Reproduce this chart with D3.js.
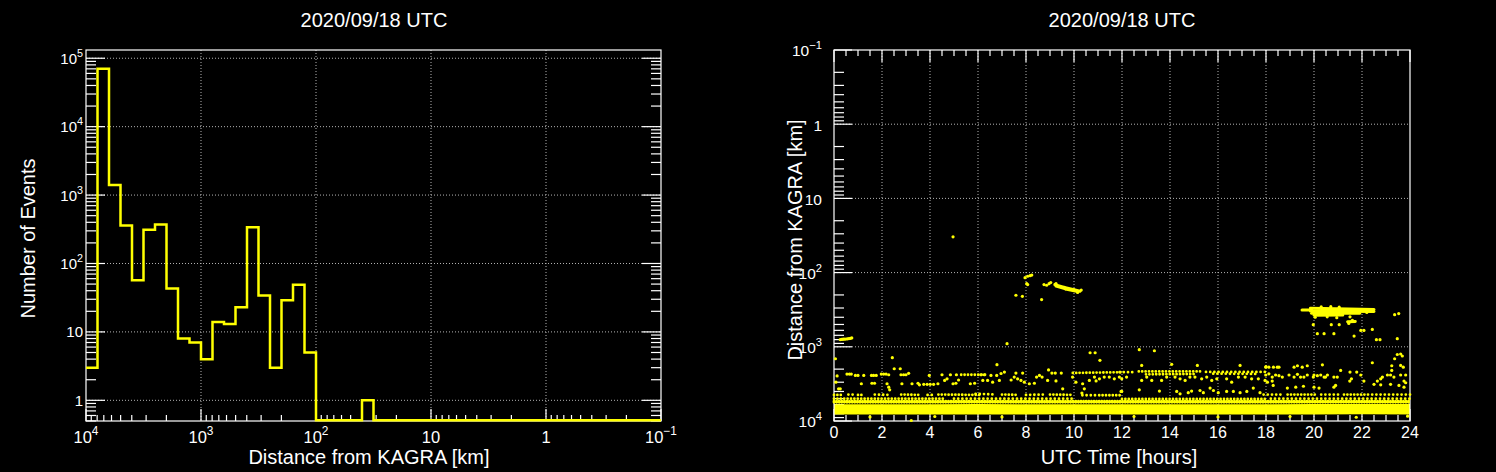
<!DOCTYPE html>
<html><head><meta charset="utf-8">
<script src="https://cdn.jsdelivr.net/npm/d3@7"></script>
<style>
html,body{margin:0;padding:0;background:#000;}
svg{display:block;background:#000;}
text{font-family:"Liberation Sans", Arial, Helvetica, sans-serif; fill:#fff;}
</style></head><body>
<svg id="c" width="1496" height="472"></svg>
<script>
// ---------------- DATA ----------------
const chartTitle = "2020/09/18 UTC";
const histXTitle = "Distance from KAGRA [km]";
const histYTitle = "Number of Events";
const scatXTitle = "UTC Time [hours]";
const scatYTitle = "Distance from KAGRA [km]";

// Histogram: 50 logarithmic bins from 10^4 km down to 10^-1 km
const histRangeKm = [1e4, 0.1];
const binCounts = [3, 70000, 1400, 360, 57, 310, 370, 43, 8, 7,
                   4, 14, 13, 23, 340, 34, 3, 29, 49, 5,
                   0, 0, 0, 0, 1, 0, 0, 0, 0, 0,
                   0, 0, 0, 0, 0, 0, 0, 0, 0, 0,
                   0, 0, 0, 0, 0, 0, 0, 0, 0, 0];
const histXTicks = [1e4, 1e3, 1e2, 10, 1, 0.1];
const histXTickLabels = [["10","4"],["10","3"],["10","2"],["10",""],["1",""],["10","\u22121"]];
const histYTicks = [1, 10, 100, 1e3, 1e4, 1e5];
const histYTickLabels = [["1",""],["10",""],["10","2"],["10","3"],["10","4"],["10","5"]];

// Scatter axes
const hourTicks = [0, 2, 4, 6, 8, 10, 12, 14, 16, 18, 20, 22, 24];
const distTicks = [0.1, 1, 10, 100, 1000, 10000];
const distTickLabels = [["10","\u22121"],["1",""],["10",""],["10","2"],["10","3"],["10","4"]];

// Dense band of near events (edges in km at given hours)
const bandHours  = [0, 2, 4, 6, 8, 10, 12, 14, 16, 18, 20, 22, 24];
const bandNearKm = [5950, 5950, 5950, 5900, 5950, 5950, 5950, 5950, 5950, 5950, 5900, 5900, 5900];
const bandFarKm  = [8150, 8200, 8150, 8150, 8150, 8100, 8150, 8150, 8150, 8150, 8150, 8100, 8150];

// Rows of closely spaced events: [startHour, startKm, endHour, endKm]
const rowTracks = [
  [0.0,5400,24.0,5400],[0.0,5600,24.0,5600],
  [0.0,5000,4.6,5000],[5.0,5000,10.0,5000],[12.0,5050,18.0,5050],[18.2,5000,24.0,5000],
  [0.0,4450,0.3,4450],[0.6,4400,0.85,4400],[1.0,4450,1.25,4450],[1.7,4400,2.3,4450],
  [2.8,4400,3.6,4450],[3.9,4450,4.1,4450],[4.35,4400,6.1,4450],[5.9,4300,6.75,4400],
  [7.0,4400,7.7,4450],[8.0,4450,8.7,4400],[9.0,4400,9.95,4450],[10.35,4500,10.9,4500],
  [11.05,4500,12.0,4500],[17.9,4400,18.75,4400],[18.9,4400,20.1,4400],[20.3,4400,21.1,4400],
  [21.25,4400,22.1,4400],[22.25,4400,24.0,4400],
  [9.95,2250,12.05,2200],[11.9,2200,12.5,2200],[12.7,2150,15.3,2150],[15.5,2180,18.1,2180],
  [13.0,2350,15.0,2330],[15.8,2300,17.6,2320],
  [5.3,2380,6.3,2380]
];
// Compact clusters of events: [startHour, startKm, endHour, endKm]
const clusterTracks = [
  [9.2,145,9.6,158],[9.6,158,10.0,170],[10.0,170,10.25,178],
  [9.25,152,9.65,166],[9.65,166,10.1,178],
  [19.5,318,19.9,318],[19.85,302,22.5,315],[19.85,330,22.5,335],[19.9,352,21.9,352],
  [20.0,375,21.2,372],[21.4,460,21.72,455]
];

// Individual events: [hour, km]
const isolatedEvents = [
  [4.96,33],[7.21,908],[0.06,1450],[2.43,1400],[2.51,1976],[2.76,1976],
  [10.67,1203],[10.88,1203],[11.08,1523],[12.72,1094],[13.35,1130],[3.22,9850],[21.76,8900],
  [0.26,800],[0.32,795],[0.38,790],[0.44,790],[0.50,785],[0.56,780],[0.62,775],[0.68,770],[0.74,760],
  [7.96,117],[8.07,112],[8.17,110],[8.24,108],[8.03,141],[8.07,145],[7.58,202],[7.85,209],[8.65,231],
  [8.75,145],[8.86,148],[8.96,141],[9.03,136],[9.25,141],[10.3,172],[10.15,185],
  [20.3,290],[20.7,288],[21.05,292],[20.55,395],[20.05,400],[20.95,405],[21.5,395],[22.2,345],[22.45,325],
  [21.45,485],[21.6,440],
  [19.97,504],[20.14,666],[20.42,666],[20.72,504],[20.83,666],[21.05,504],[21.67,716],[21.95,601],
  [22.08,601],[22.43,583],[22.6,801],[22.75,801],[23.36,369],[23.53,357],[23.47,778],
  [1.5,8800],[4.2,8700],[7.0,8800],[12.5,8700],[16.0,8800],[19.0,8700],[23.9,8600]
];
const regionalEvents = [
  [0.08,3000],[0.13,2470],[0.54,2330],[0.64,2330],[0.72,2330],[0.89,2430],[1.0,2430],[1.24,2430],[1.14,3150],
  [0.19,3680],[0.26,3680],[1.56,2430],[1.65,2430],[1.76,2430],[1.97,2330],[2.07,2330],[2.17,2330],[2.28,2380],
  [1.58,3100],[1.69,3100],[2.21,3150],[2.28,3500],[2.32,3800],[2.83,3150],[2.79,2380],[2.9,2380],[3.0,2380],
  [3.11,2280],[3.25,3150],[3.5,3100],[3.56,3250],[3.74,3200],[3.88,3200],[4.01,3200],[4.15,3200],[3.97,2430],
  [4.33,3150],[4.5,2380],[4.61,2840],[4.71,2700],[4.85,2380],[4.96,3150],[5.08,3100],[5.19,2800],[5.1,2380],
  [5.68,3150],[5.86,3100],
  [6.79,1740],[6.12,2380],[6.26,2380],[6.54,2430],[6.78,2430],[6.96,2290],[7.10,2190],[6.2,2840],
  [6.4,2840],[6.61,3000],[6.89,2840],[7.38,2800],[7.51,2560],[7.65,2700],[7.79,2840],[7.93,3000],[7.58,2260],
  [7.86,2260],[8.14,3150],[8.35,3100],[8.44,2560],[8.56,2430],[8.67,2560],[8.94,2050],[9.08,2260],[9.22,2260],
  [8.9,2840],[9.25,2880],[9.47,2260],[9.53,3680],[9.94,2560],[10.08,3000],[10.36,3150],[10.64,2840],[10.92,2880],
  [10.85,2560],[11.06,2700],[11.26,2560],[11.47,2560],[11.68,2700],[11.89,2560],[10.43,3680],[10.33,4200],[11.96,4000],
  [12.82,1783],[14.07,1720],[15.14,1783],[16.92,1783],[18.0,1850],
  [11.99,2700],[12.19,2560],[12.82,2840],[13.03,2560],[13.24,2840],[13.65,2840],[13.86,2560],[14.21,2560],
  [14.42,2700],[14.63,2840],[14.83,2560],[15.04,2560],[15.32,2700],[15.53,2560],[15.74,2840],[15.95,2700],
  [16.36,2700],[16.57,3000],[16.85,2560],[17.13,2560],[17.40,2700],[17.68,2700],[17.96,2840],
  [12.72,3800],[13.56,3950],[11.99,4000],[14.28,4000],[14.42,4300],[14.76,4150],[14.9,3950],[15.25,3880],
  [15.39,4150],[15.67,3600],[15.81,3880],[16.01,4150],[16.36,4000],[16.64,4000],[16.92,4150],[17.2,4000],
  [17.47,3600],[17.75,4150],
  [17.99,1880],[18.12,1880],[18.31,1880],[18.47,1880],[18.54,1880],
  [17.99,2400],[18.12,2310],[18.26,2560],[18.40,2400],[18.54,2450],[18.68,2560],
  [18.06,3000],[18.26,2900],[18.3,3320],
  [18.96,2400],[19.17,2560],[19.31,2350],[19.44,2560],[19.58,2560],[19.72,2400],
  [19.17,1880],[19.31,1800],[19.51,1880],[19.72,1800],
  [18.89,3600],[19.24,3500],[19.56,3400],[20.0,3500],[20.21,3600],[20.35,1750],
  [20.0,2400],[20.14,2450],[20.28,2400],[20.42,2560],[20.56,2400],[19.97,2560],[20.48,2560],
  [20.83,2560],[20.97,2560],[20.83,3500],[20.9,3320],
  [21.11,2080],[21.5,2190],[21.78,2190],[21.49,2900],[21.56,2700],[21.95,2400],[22.08,2900],[22.43,1640],
  [22.64,2900],[22.78,2700],[22.85,2560],[23.06,2400],[23.19,2400],[23.33,2560],[23.61,2400],[23.82,2400],
  [23.24,2080],[23.24,1800],[23.36,1450],[23.47,1270],[23.61,1250],[23.68,1330],[23.61,1780],[23.72,1880],
  [22.5,3200],[22.78,3250],[23.19,3200],[23.54,3320],[23.75,3500],[23.75,2900],[23.82,3050]
];

// ---------------- DRAWING ----------------
const svg = d3.select("#c");
const YELLOW = "#ffff00";
const GRID = "#b4b4b4";

function logTicks(lo, hi){
  const out = [];
  for (let e = Math.floor(Math.log10(lo)) - 1; e <= Math.ceil(Math.log10(hi)); e++){
    for (let k = 1; k < 10; k++){
      const v = +(k * Math.pow(10, e)).toPrecision(6);
      if (v >= lo * 0.9999 && v <= hi * 1.0001) out.push({v, major: k === 1});
    }
  }
  return out;
}
function supLabel(g, x, y, parts, size, anchor){
  const t = g.append("text").attr("x", x).attr("y", y)
    .attr("font-size", size).attr("text-anchor", anchor);
  t.append("tspan").text(parts[0]);
  if (parts[1]) t.append("tspan").attr("dy", -0.46 * size)
      .attr("font-size", (size * 0.72).toFixed(1)).text(parts[1]);
}
function frame(g, x0, x1, y0, y1){
  g.append("rect").attr("x", x0).attr("y", y0).attr("width", x1 - x0).attr("height", y1 - y0)
   .attr("fill", "none").attr("stroke", "#fff").attr("stroke-width", 1.2);
}

// ===== LEFT: histogram =====
{
  const X0 = 86, X1 = 661, Y0 = 50, Y1 = 421;
  const x = d3.scaleLog().domain(histRangeKm).range([X0, X1]);
  const y = d3.scaleLog().domain([0.4985, 1.32e5]).range([Y1, Y0]);
  const g = svg.append("g");

  histXTicks.slice(1, -1).forEach(v => g.append("line")
    .attr("x1", x(v)).attr("x2", x(v)).attr("y1", Y0).attr("y2", Y1)
    .attr("stroke", GRID).attr("stroke-dasharray", "1,2"));
  histYTicks.forEach(v => g.append("line")
    .attr("x1", X0).attr("x2", X1).attr("y1", y(v)).attr("y2", y(v))
    .attr("stroke", GRID).attr("stroke-dasharray", "1,2"));

  frame(g, X0, X1, Y0, Y1);

  logTicks(0.1, 1e4).forEach(t => g.append("line")
    .attr("x1", x(t.v)).attr("x2", x(t.v)).attr("y1", Y1).attr("y2", Y1 - (t.major ? 12 : 6))
    .attr("stroke", "#fff").attr("stroke-width", 1.2));
  const [ylo, yhi] = y.domain();
  logTicks(ylo, yhi).forEach(t => {
    const L = t.major ? 19 : 10;
    g.append("line").attr("x1", X0).attr("x2", X0 + L).attr("y1", y(t.v)).attr("y2", y(t.v))
      .attr("stroke", "#fff").attr("stroke-width", 1.2);
    g.append("line").attr("x1", X1).attr("x2", X1 - L).attr("y1", y(t.v)).attr("y2", y(t.v))
      .attr("stroke", "#fff").attr("stroke-width", 1.2);
  });

  const nb = binCounts.length;
  const lo = Math.log10(histRangeKm[0]), hi = Math.log10(histRangeKm[1]);
  const edge = i => Math.pow(10, lo + (hi - lo) * i / nb);
  const pts = [];
  binCounts.forEach((c, i) => {
    const yy = c > 0 ? y(c) : Y1 - 0.8;
    pts.push([x(edge(i)), yy], [x(edge(i + 1)), yy]);
  });
  g.append("path").attr("d", d3.line()(pts)).attr("fill", "none")
    .attr("stroke", YELLOW).attr("stroke-width", 2.5).attr("stroke-linejoin", "miter");

  histXTicks.forEach((v, i) => supLabel(g, x(v), 443, histXTickLabels[i], 16.5, "middle"));
  histYTicks.forEach((v, i) => supLabel(g, 83, y(v) + 5.5, histYTickLabels[i], 15, "end"));

  g.append("text").attr("x", 369).attr("y", 463.5).attr("text-anchor", "middle")
    .attr("font-size", 20).text(histXTitle);
  g.append("text").attr("transform", "translate(35,238.5) rotate(-90)").attr("text-anchor", "middle")
    .attr("font-size", 20).text(histYTitle);
  g.append("text").attr("x", 374).attr("y", 27).attr("text-anchor", "middle")
    .attr("font-size", 20).text(chartTitle);
}

// ===== RIGHT: scatter =====
{
  const X0 = 834, X1 = 1410, Y0 = 50, Y1 = 421;
  const x = d3.scaleLinear().domain([0, 24]).range([X0, X1]);
  const y = d3.scaleLog().domain([0.1, 1e4]).range([Y0, Y1]);
  const g = svg.append("g");

  hourTicks.slice(1, -1).forEach(v => g.append("line")
    .attr("x1", x(v)).attr("x2", x(v)).attr("y1", Y0).attr("y2", Y1)
    .attr("stroke", GRID).attr("stroke-dasharray", "1,2"));
  distTicks.slice(1, -1).forEach(v => g.append("line")
    .attr("x1", X0).attr("x2", X1).attr("y1", y(v)).attr("y2", y(v))
    .attr("stroke", GRID).attr("stroke-dasharray", "1,2"));

  d3.range(0, 24.01, 0.5).forEach(h => {
    const major = Math.abs(h / 2 - Math.round(h / 2)) < 1e-6;
    const L = major ? 12 : 6;
    g.append("line").attr("x1", x(h)).attr("x2", x(h)).attr("y1", Y1).attr("y2", Y1 - L)
      .attr("stroke", "#fff").attr("stroke-width", 1.2);
    g.append("line").attr("x1", x(h)).attr("x2", x(h)).attr("y1", Y0).attr("y2", Y0 + L)
      .attr("stroke", "#fff").attr("stroke-width", 1.2);
  });
  logTicks(0.1, 1e4).forEach(t => g.append("line")
    .attr("x1", X0).attr("x2", X0 + (t.major ? 18 : 10)).attr("y1", y(t.v)).attr("y2", y(t.v))
    .attr("stroke", "#fff").attr("stroke-width", 1.2));

  const band = bandHours.map((h, i) => ({h, n: bandNearKm[i], f: bandFarKm[i]}));
  g.append("path").attr("d", d3.area().x(d => x(d.h)).y0(d => y(d.n)).y1(d => y(d.f))(band))
    .attr("fill", YELLOW);

  frame(g, X0, X1, Y0, Y1);

  // rows of closely spaced events: drawn as dotted runs of markers
  g.selectAll("line.row").data(rowTracks).join("line").attr("class", "row")
    .attr("x1", d => x(d[0])).attr("y1", d => y(d[1])).attr("x2", d => x(d[2])).attr("y2", d => y(d[3]))
    .attr("stroke", YELLOW).attr("stroke-width", 2.8).attr("stroke-linecap", "round")
    .attr("stroke-dasharray", (d, i) => i < 2 ? "0,2.6" : (i % 2 ? "0,4.2" : "0,3.4"));
  // compact clusters
  g.selectAll("line.cl").data(clusterTracks).join("line").attr("class", "cl")
    .attr("x1", d => x(d[0])).attr("y1", d => y(d[1])).attr("x2", d => x(d[2])).attr("y2", d => y(d[3]))
    .attr("stroke", YELLOW).attr("stroke-width", 3).attr("stroke-linecap", "round");

  g.selectAll("circle.ev").data(isolatedEvents.concat(regionalEvents)).join("circle").attr("class", "ev")
    .attr("cx", d => x(d[0])).attr("cy", d => y(d[1])).attr("r", 1.6).attr("fill", YELLOW);

  hourTicks.forEach(h => g.append("text").attr("x", x(h)).attr("y", 437.5)
    .attr("text-anchor", "middle").attr("font-size", 16).text(h));
  distTicks.forEach((v, i) => supLabel(g, 822, y(v) + 6.3, distTickLabels[i], 15.5, "end"));

  g.append("text").attr("x", 1119).attr("y", 463.5).attr("text-anchor", "middle")
    .attr("font-size", 20).text(scatXTitle);
  g.append("text").attr("transform", "translate(802,240) rotate(-90)").attr("text-anchor", "middle")
    .attr("font-size", 20).text(scatYTitle);
  g.append("text").attr("x", 1122).attr("y", 27).attr("text-anchor", "middle")
    .attr("font-size", 20).text(chartTitle);
}
</script>
</body></html>
